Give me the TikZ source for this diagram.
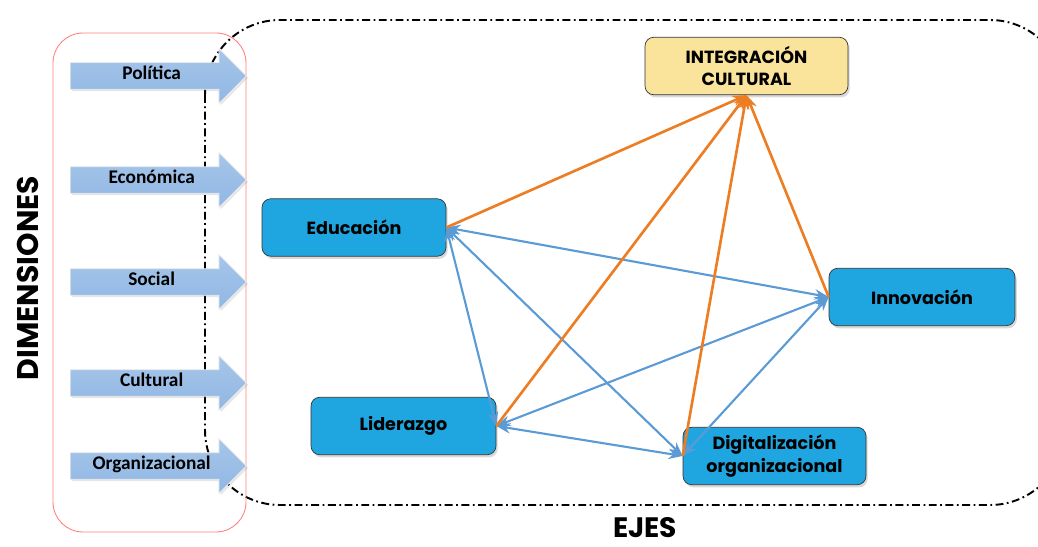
\documentclass[tikz,border=0pt]{standalone}
\usepackage{fontspec}
\setmainfont{Poppins}
\newfontfamily\arrowfont{Carlito}
\usetikzlibrary{shapes.arrows,shadows,arrows.meta}
\definecolor{ejeblue}{HTML}{1FA6E0}
\definecolor{ejeyellow}{HTML}{FAE39A}
\definecolor{dimblue}{HTML}{90B7E4}
\definecolor{reloran}{HTML}{ED7D23}
\definecolor{relblue}{HTML}{5B9BD5}
\begin{document}
\begin{tikzpicture}[x=0.02cm,y=-0.02cm]
	\tikzstyle{every node}=[]
	\tikzstyle{eje}=[draw=black!80, fill=ejeblue, rounded corners=5pt, minimum height=1.15cm, align=center,
		font=\bfseries\fontsize{10}{13}\selectfont, drop shadow={opacity=0.3,shadow xshift=1pt,shadow yshift=-1.5pt}]
	\tikzstyle{dimarrow}=[single arrow, draw=white!85!gray, top color=dimblue!80, bottom color=dimblue, anchor=tail,
		minimum height=3.52cm, single arrow head extend=0.28cm, text height=0.2cm, text depth=0.06cm, inner ysep=0.13cm,
		font=\arrowfont\bfseries\fontsize{11}{12}\selectfont, drop shadow={opacity=0.2,shadow xshift=1pt,shadow yshift=-1pt}]
	\tikzstyle{core}=[->, >={Stealth[length=8pt,width=6pt]}, reloran, line width=1.5pt]
	\tikzstyle{relation}=[<->, >={Stealth[length=8pt,width=6pt]}, relblue, line width=1.2pt]
	\tikzstyle{frame}=[line width=1.1pt, dash pattern=on 4.5pt off 2pt on 1pt off 2pt]

	\useasboundingbox (0,0) rectangle (1038,547);
	\clip (0,0) rectangle (1038,547);

	% marcos
	\draw[frame, rounded corners=1.5cm] (205,20) rectangle (1065,505);
	\draw[red!50, line width=0.5pt, rounded corners=0.6cm] (53,33) rectangle (246,532);

	% dimensiones
	\node[dimarrow] (pol) at (70,76) {Política};
	\node[dimarrow] (eco) at (70,180) {Económica};
	\node[dimarrow] (soc) at (70,282) {Social};
	\node[dimarrow] (cul) at (70,383) {Cultural};
	\node[dimarrow] (org) at (70,466) {Organizacional};
	\node[rotate=90, font=\bfseries\fontsize{17}{19}\selectfont] (dim) at (28,278) {DIMENSIONES};
	\node[inner sep=0pt, font=\bfseries\fontsize{16}{18}\selectfont] (ejes) at (645,528) {EJES};

	% ejes
	\node[eje, fill=ejeyellow, minimum width=4.06cm] (int) at (746.5,66) {INTEGRACIÓN\\CULTURAL};
	\node[eje, minimum width=3.68cm] (edu) at (354,227.5) {Educación};
	\node[eje, minimum width=3.72cm] (inn) at (922,297) {Innovación};
	\node[eje, minimum width=3.7cm] (lid) at (403.5,426) {Liderazgo};
	\node[eje, minimum width=3.66cm] (dig) at (774.5,456) {Digitalización\\organizacional};

	\draw[relation] (edu.east) -- (inn.west);
	\draw[relation] (edu.east) -- (lid.east);
	\draw[relation] (edu.east) -- (dig.west);
	\draw[relation] (lid.east) -- (inn.west);
	\draw[relation] (lid.east) -- (dig.west);
	\draw[relation] (dig.west) -- (inn.west);
	\draw[core] (edu.east) -- (int.south);
	\draw[core] (lid.east) -- (int.south);
	\draw[core] (dig.west) -- (int.south);
	\draw[core] (inn.west) -- (int.south);
\end{tikzpicture}
\end{document}
